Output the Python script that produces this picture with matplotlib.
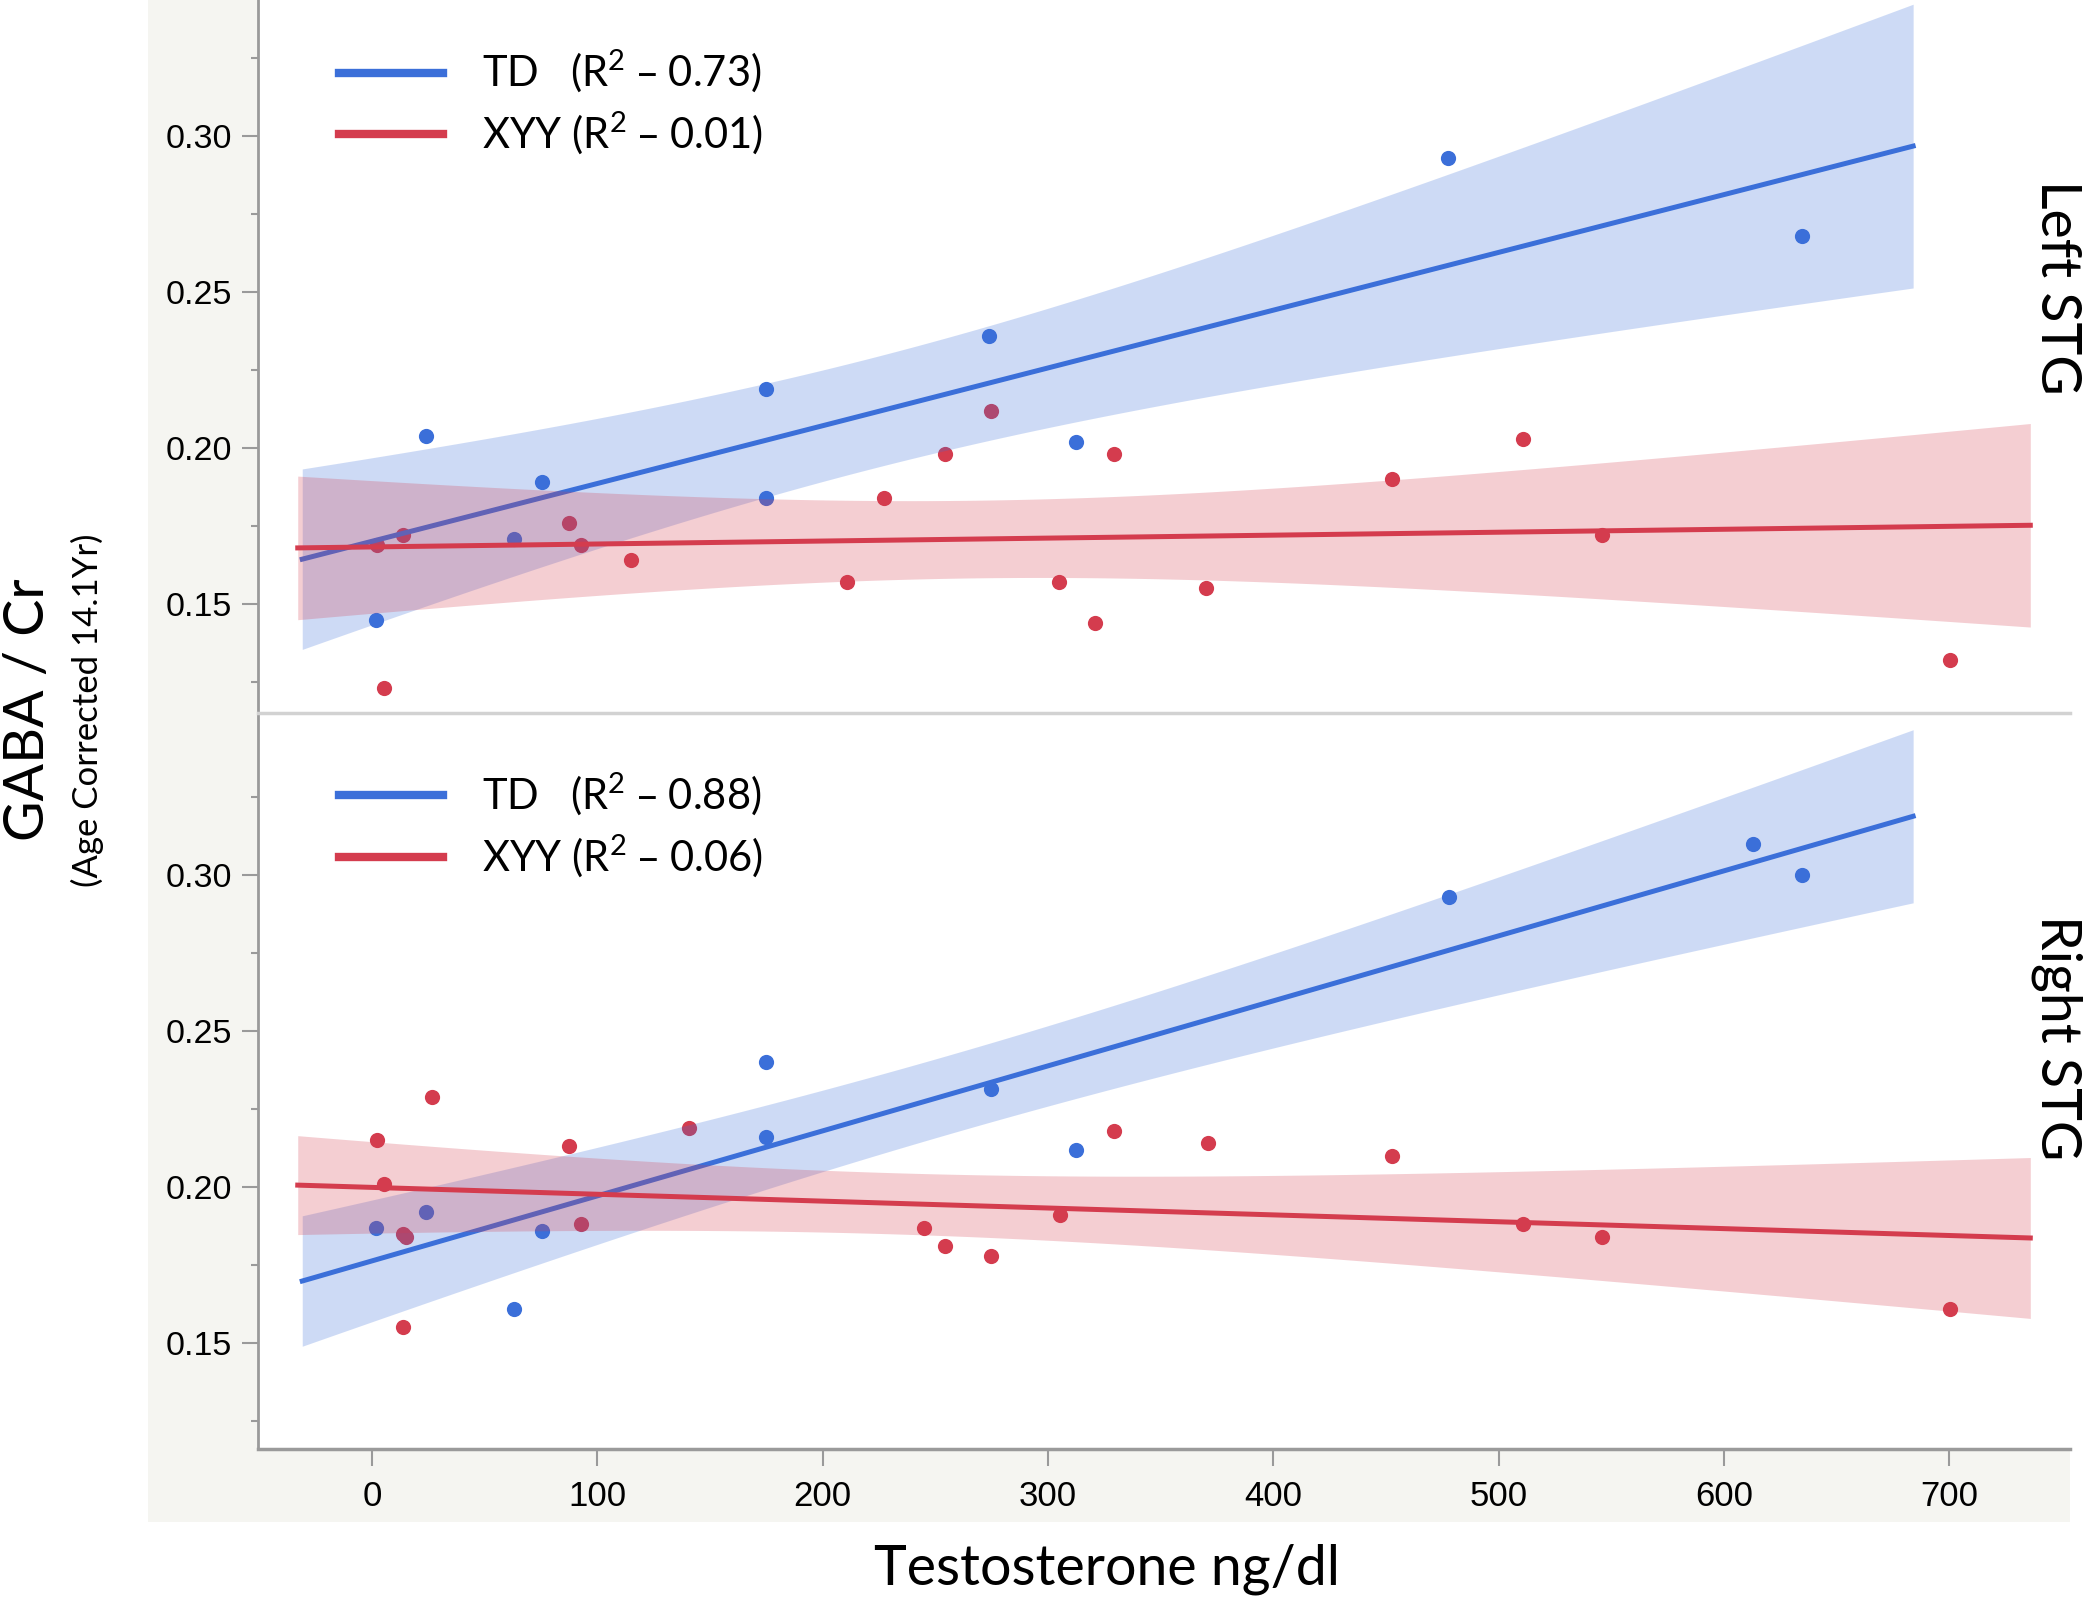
import numpy as np
import matplotlib
matplotlib.use('Agg')
import matplotlib.pyplot as plt
from matplotlib.patches import Rectangle
from matplotlib.lines import Line2D

plt.rcParams['font.family'] = ['Liberation Sans', 'DejaVu Sans']
LABEL_FONT = ['Lato', 'DejaVu Sans']

# Left STG (top panel)
left_td_x = [1.8, 23.8, 63, 75.5, 175, 175, 274, 312.5, 477.7, 634.6]
left_td_y = [0.145, 0.204, 0.171, 0.189, 0.219, 0.184, 0.236, 0.202, 0.293, 0.268]
left_xyy_x = [2.4, 5.3, 13.7, 87.3, 92.7, 114.7, 211, 227, 254.3, 274.5, 304.8, 320.9,
              329.2, 370.2, 452.8, 511, 546, 700.5]
left_xyy_y = [0.169, 0.123, 0.172, 0.176, 0.169, 0.164, 0.157, 0.184, 0.198, 0.212, 0.157,
              0.144, 0.198, 0.155, 0.190, 0.203, 0.172, 0.132]

# Right STG (bottom panel)
right_td_x = [1.8, 23.8, 63, 75.5, 175, 175, 274.5, 312.5, 478, 613, 634.6]
right_td_y = [0.187, 0.192, 0.161, 0.186, 0.240, 0.216, 0.2315, 0.212, 0.293, 0.310, 0.300]
right_xyy_x = [2.4, 5.3, 13.7, 14.9, 26.7, 13.7, 87.3, 92.7, 140.8, 244.8, 254.3, 274.5,
               305.4, 329.2, 370.8, 452.8, 511, 546, 700.5]
right_xyy_y = [0.215, 0.201, 0.185, 0.184, 0.229, 0.155, 0.213, 0.188, 0.219, 0.187, 0.181,
               0.178, 0.191, 0.218, 0.214, 0.210, 0.188, 0.184, 0.161]

# x extent of the fitted lines / bands
td_fit_range = (-31, 684)
xyy_fit_range = (-33, 736)

left_labels = [r'TD   (R$^\mathregular{2}$ – 0.73)', r'XYY (R$^\mathregular{2}$ – 0.01)']
right_labels = [r'TD   (R$^\mathregular{2}$ – 0.88)', r'XYY (R$^\mathregular{2}$ – 0.06)']

BLUE = '#3b6fd9'
RED = '#d43c4e'

# two-sided 95% t values by degrees of freedom
T975 = {8: 2.306, 9: 2.262, 16: 2.120, 17: 2.110}


def fit_band(x, y, xs):
    x = np.asarray(x, float)
    y = np.asarray(y, float)
    n = len(x)
    b, a = np.polyfit(x, y, 1)
    yhat = a + b * xs
    resid = y - (a + b * x)
    s = np.sqrt(np.sum(resid ** 2) / (n - 2))
    sxx = np.sum((x - x.mean()) ** 2)
    se = s * np.sqrt(1 / n + (xs - x.mean()) ** 2 / sxx)
    t = T975[n - 2]
    return yhat, yhat - t * se, yhat + t * se


def draw_panel(ax, td_x, td_y, xyy_x, xyy_y, labels):
    ax.scatter(td_x, td_y, s=120, color=BLUE, lw=0, zorder=2)
    ax.scatter(xyy_x, xyy_y, s=120, color=RED, lw=0, zorder=2)

    xs = np.linspace(td_fit_range[0], td_fit_range[1], 200)
    yh, lo, hi = fit_band(td_x, td_y, xs)
    ax.fill_between(xs, lo, hi, color=BLUE, alpha=0.25, lw=0, zorder=3)
    ax.plot(xs, yh, color=BLUE, lw=3.6, zorder=3)

    xs = np.linspace(xyy_fit_range[0], xyy_fit_range[1], 200)
    yh, lo, hi = fit_band(xyy_x, xyy_y, xs)
    ax.fill_between(xs, lo, hi, color=RED, alpha=0.25, lw=0, zorder=4)
    ax.plot(xs, yh, color=RED, lw=3.6, zorder=4)

    ax.set_xlim(-50.6, 753.7)
    ax.set_yticks([0.15, 0.20, 0.25, 0.30])
    ax.set_yticks([0.125, 0.175, 0.225, 0.275, 0.325], minor=True)
    ax.yaxis.set_major_formatter(matplotlib.ticker.FormatStrFormatter('%.2f'))
    ax.tick_params(axis='y', which='major', labelsize=24.5, length=11.5, width=1.5,
                   color='#9a9a9a', pad=7)
    ax.tick_params(axis='y', which='minor', length=5, width=1.5, color='#9a9a9a')
    ax.spines['top'].set_visible(False)
    ax.spines['right'].set_visible(False)
    ax.spines['left'].set_color('#9a9a9a')
    ax.spines['left'].set_linewidth(2)

    handles = [Line2D([0], [0], color=BLUE, lw=6), Line2D([0], [0], color=RED, lw=6)]
    return handles


fig = plt.figure(figsize=(21, 16.09), dpi=100)
fig.add_artist(Rectangle((0.0705, 0.0541), 0.9152, 0.9459, transform=fig.transFigure,
                         facecolor='#f5f5f1', edgecolor='none', zorder=-10))

ax_bot = fig.add_axes([0.1229, 0.0994, 0.8629, 0.4574])
ax_top = fig.add_axes([0.1229, 0.5569, 0.8629, 0.4431])

h = draw_panel(ax_top, left_td_x, left_td_y, left_xyy_x, left_xyy_y, left_labels)
ax_top.set_ylim(0.1151, 0.3436)
ax_top.tick_params(axis='x', which='both', bottom=False, labelbottom=False)
ax_top.spines['bottom'].set_color('#d2d2d2')
ax_top.spines['bottom'].set_linewidth(2.5)
ax_top.legend(h, left_labels, loc='upper left', bbox_to_anchor=(0.0447, 0.9326),
              frameon=False, borderpad=0, borderaxespad=0, handlelength=2.49,
              handletextpad=0.93, labelspacing=0.35, prop={'family': LABEL_FONT, 'size': 30})

h = draw_panel(ax_bot, right_td_x, right_td_y, right_xyy_x, right_xyy_y, right_labels)
ax_bot.set_ylim(0.1160, 0.3519)
ax_bot.set_xticks(range(0, 701, 100))
ax_bot.tick_params(axis='x', labelsize=25, length=12, width=1.5, color='#9a9a9a', pad=10)
ax_bot.spines['bottom'].set_color('#9a9a9a')
ax_bot.spines['bottom'].set_linewidth(2.5)
ax_bot.legend(h, right_labels, loc='upper left', bbox_to_anchor=(0.0447, 0.9216),
              frameon=False, borderpad=0, borderaxespad=0, handlelength=2.49,
              handletextpad=0.93, labelspacing=0.35, prop={'family': LABEL_FONT, 'size': 30})

fig.text(0.0138, 0.5587, 'GABA / Cr', rotation=90, ha='center', va='center',
         fontsize=40, family=LABEL_FONT)
fig.text(0.0414, 0.5587, '(Age Corrected 14.1Yr)', rotation=90, ha='center', va='center',
         fontsize=25, family=LABEL_FONT)
fig.text(0.527, 0.0248, 'Testosterone ng/dl', ha='center', va='center',
         fontsize=40, family=LABEL_FONT)
fig.text(0.9795, 0.8216, 'Left STG', rotation=270, ha='center', va='center',
         fontsize=40, family=LABEL_FONT)
fig.text(0.9795, 0.3549, 'Right STG', rotation=270, ha='center', va='center',
         fontsize=40, family=LABEL_FONT)

fig.savefig('out.png', dpi=100)
